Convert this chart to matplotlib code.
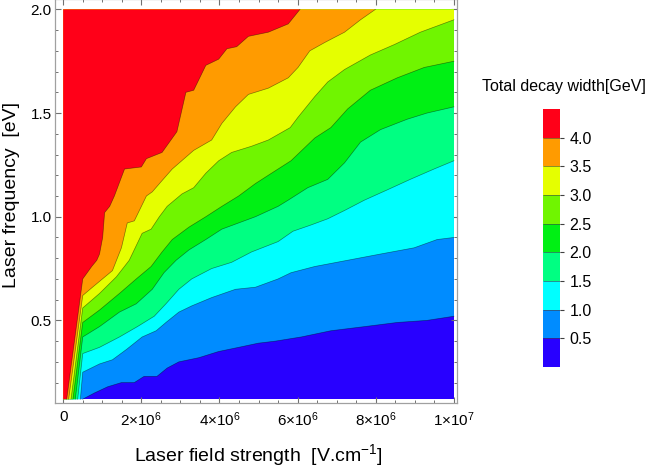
import matplotlib
matplotlib.use('Agg')
import matplotlib.pyplot as plt
import numpy as np
from matplotlib.colors import ListedColormap, BoundaryNorm
from matplotlib.cm import ScalarMappable
from matplotlib.ticker import FixedLocator, MultipleLocator, NullLocator

plt.rcParams['font.family'] = 'Liberation Sans'
plt.rcParams['mathtext.fontset'] = 'custom'
plt.rcParams['mathtext.rm'] = 'Liberation Sans'
plt.rcParams['mathtext.it'] = 'Liberation Sans:italic'

# data extent (field strength in 1e6 V/cm, frequency in eV)
field_range = [0.0, 10.0]
freq_range = [0.12, 2.0]

levels = [0.5, 1.0, 1.5, 2.0, 2.5, 3.0, 3.5, 4.0]
band_colors = ['#2800ff', '#008cff', '#00ffff', '#00ff82', '#00f014',
               '#70f500', '#e5ff00', '#ff9b00', '#ff0018']

# contour lines: field strength (1e6 V/cm) -> frequency (eV)
E_05 = [0.50, 0.80, 1.14, 1.49, 1.82, 2.07, 2.40, 2.66, 2.96, 3.47, 3.98, 4.49, 4.99,
        5.43, 6.09, 6.85, 7.71, 8.55, 9.31, 10.0]
w_05 = [0.12, 0.15, 0.18, 0.20, 0.20, 0.23, 0.23, 0.27, 0.30, 0.32, 0.35, 0.37, 0.39,
        0.40, 0.42, 0.45, 0.47, 0.49, 0.50, 0.52]

E_10 = [0.44, 0.50, 0.93, 1.26, 1.62, 2.02, 2.38, 2.63, 2.96, 3.29, 3.80, 4.41, 4.92,
        5.50, 5.83, 6.44, 7.28, 8.12, 8.98, 9.57, 10.0]
w_10 = [0.12, 0.25, 0.29, 0.31, 0.36, 0.42, 0.45, 0.49, 0.54, 0.57, 0.61, 0.65, 0.66,
        0.70, 0.73, 0.76, 0.79, 0.82, 0.85, 0.89, 0.90]

E_15 = [0.37, 0.50, 0.93, 1.44, 1.90, 2.33, 2.63, 2.96, 3.29, 3.80, 4.31, 4.82, 5.50,
        5.88, 6.34, 6.77, 7.20, 7.71, 8.30, 8.88, 9.49, 10.0]
w_15 = [0.12, 0.34, 0.37, 0.42, 0.47, 0.52, 0.58, 0.65, 0.70, 0.75, 0.78, 0.83, 0.88,
        0.93, 0.96, 0.99, 1.03, 1.08, 1.13, 1.18, 1.23, 1.27]

E_20 = [0.31, 0.50, 0.93, 1.44, 1.87, 2.28, 2.58, 2.89, 3.22, 3.65, 4.06, 4.49, 4.92,
        5.50, 5.76, 6.26, 6.77, 7.20, 7.61, 8.12, 8.80, 9.31, 10.0]
w_20 = [0.12, 0.42, 0.47, 0.54, 0.58, 0.65, 0.73, 0.79, 0.84, 0.89, 0.94, 0.97, 1.00,
        1.05, 1.08, 1.14, 1.18, 1.26, 1.36, 1.42, 1.47, 1.50, 1.53]

E_25 = [0.25, 0.50, 0.93, 1.44, 1.87, 2.25, 2.53, 2.79, 3.22, 3.65, 4.06, 4.49, 4.92,
        5.25, 5.83, 6.44, 6.85, 7.28, 7.86, 8.55, 9.24, 10.0]
w_25 = [0.12, 0.49, 0.55, 0.63, 0.70, 0.76, 0.83, 0.89, 0.95, 1.00, 1.05, 1.10, 1.16,
        1.20, 1.27, 1.38, 1.43, 1.52, 1.61, 1.67, 1.72, 1.75]

E_30 = [0.20, 0.50, 0.93, 1.36, 1.69, 2.02, 2.25, 2.46, 2.66, 3.04, 3.34, 3.65, 3.98,
        4.31, 4.82, 5.25, 5.81, 6.01, 6.44, 6.77, 7.20, 7.86, 8.47, 9.14, 10.0]
w_30 = [0.12, 0.56, 0.63, 0.71, 0.79, 0.92, 0.94, 1.00, 1.05, 1.11, 1.14, 1.21, 1.27,
        1.31, 1.34, 1.37, 1.43, 1.48, 1.58, 1.65, 1.71, 1.78, 1.83, 1.89, 1.95]

E_35 = [0.14, 0.50, 0.75, 1.26, 1.49, 1.64, 1.82, 2.13, 2.28, 2.51, 2.79, 3.34, 3.80,
        4.06, 4.41, 4.74, 5.25, 5.76, 6.01, 6.31, 6.69, 7.20, 7.61, 7.99]
w_35 = [0.12, 0.62, 0.66, 0.74, 0.85, 0.97, 0.98, 1.10, 1.12, 1.17, 1.23, 1.32, 1.37,
        1.45, 1.53, 1.59, 1.62, 1.67, 1.72, 1.80, 1.84, 1.89, 1.95, 2.00]

E_40 = [0.09, 0.50, 0.73, 0.86, 0.93, 1.01, 1.06, 1.19, 1.31, 1.57, 2.00, 2.13, 2.53,
        2.91, 3.14, 3.34, 3.65, 3.98, 4.19, 4.44, 4.74, 5.25, 5.76, 6.06]
w_40 = [0.12, 0.70, 0.76, 0.79, 0.82, 0.90, 1.02, 1.05, 1.10, 1.23, 1.24, 1.28, 1.31,
        1.41, 1.60, 1.61, 1.73, 1.76, 1.81, 1.82, 1.87, 1.89, 1.93, 2.00]

contours = [(E_05, w_05), (E_10, w_10), (E_15, w_15), (E_20, w_20),
            (E_25, w_25), (E_30, w_30), (E_35, w_35), (E_40, w_40)]

x_ticks = [0, 2, 4, 6, 8, 10]
x_ticklabels = ['0', r'$2{\times}10^{6}$', r'$4{\times}10^{6}$', r'$6{\times}10^{6}$',
                r'$8{\times}10^{6}$', r'$1{\times}10^{7}$']
y_ticks = [0.5, 1.0, 1.5, 2.0]

fig = plt.figure(figsize=(6.5, 4.68), dpi=100)
ax = fig.add_axes([0.0846, 0.1382, 0.6192, 0.8639])

x0, x1 = field_range
y0, y1 = freq_range

# lowest band as background, then each band above its lower contour
ax.fill_between([x0, x1], y0, y1, color=band_colors[0], lw=0, zorder=1)
for i, (E, w) in enumerate(contours):
    px = [x0] + list(E)
    py = [y0] + list(w)
    if w[-1] < y1:
        px.append(x1)
        py.append(y1)
    px.append(x0)
    py.append(y1)
    ax.fill(px, py, color=band_colors[i + 1], lw=0, zorder=2 + i)

for E, w in contours:
    ax.plot(E, w, color='k', lw=0.5, alpha=0.45, zorder=20)

ax.set_xlim(-0.21, 10.09)
ax.set_ylim(0.10, 2.05)

frame_col = '#a0a0a0'
for s in ax.spines.values():
    s.set_color(frame_col)
    s.set_linewidth(0.9)

ax.xaxis.set_major_locator(FixedLocator(x_ticks))
ax.set_xticklabels(x_ticklabels)
ax.xaxis.set_minor_locator(MultipleLocator(0.5))
ax.yaxis.set_major_locator(FixedLocator(y_ticks))
ax.set_yticklabels(['%.1f' % v for v in y_ticks])
ax.yaxis.set_minor_locator(MultipleLocator(0.1))
ax.tick_params(which='both', direction='in', top=True, right=True, color='#707070',
               labelsize=11)
ax.tick_params(which='major', length=4.5, width=0.8)
ax.tick_params(which='minor', length=2.5, width=0.7)
ax.tick_params(axis='x', pad=5)
ax.tick_params(axis='y', pad=2.5)

fig.text(258 / 650, 1 - 455 / 468, r'Laser field strength  [V.cm$^{-1}$]',
         ha='center', va='center', fontsize=14)
fig.text(11.5 / 650, 1 - 195 / 468, 'Laser frequency  [eV]', rotation=90,
         ha='center', va='center', fontsize=14)

# legend bar
cax = fig.add_axes([542.7 / 650, 1 - 367 / 468, 17.3 / 650, 258 / 468])
bounds = np.arange(0, 4.51, 0.5)
sm = ScalarMappable(norm=BoundaryNorm(bounds, len(band_colors)),
                    cmap=ListedColormap(band_colors))
cbar = fig.colorbar(sm, cax=cax, ticks=levels, drawedges=True)
cbar.outline.set_visible(False)
cbar.dividers.set_color('#404040')
cbar.dividers.set_linewidth(0.4)
cbar.ax.set_yticklabels(['%.1f' % v for v in levels])
cax.yaxis.set_minor_locator(NullLocator())
cax.tick_params(length=3, width=0.8, color='#404040', pad=4, labelsize=11.5)
fig.text(563.5 / 650, 1 - 86 / 468, 'Total decay width[GeV]', ha='center',
         va='center', fontsize=11.5)

fig.savefig('out.png', dpi=100)
